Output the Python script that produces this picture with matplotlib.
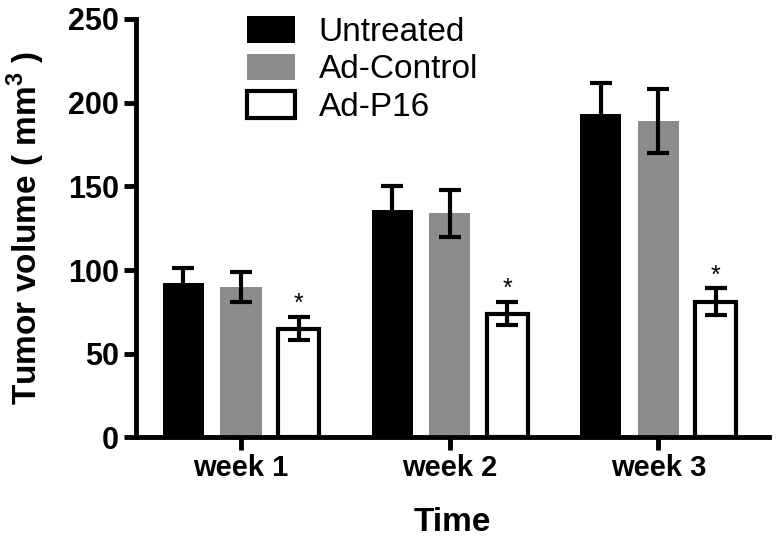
import numpy as np
import matplotlib as mpl
mpl.use('Agg')
import matplotlib.pyplot as plt

weeks = ['week 1', 'week 2', 'week 3']
groups = ['Untreated', 'Ad-Control', 'Ad-P16']
untreated = [92, 136, 193]
untreated_err = [9, 14, 19]
control = [90, 134, 189]
control_err = [9, 14, 19]
p16 = [65, 74, 81]
p16_err = [7, 7, 8]
yticks = [0, 50, 100, 150, 200, 250]

mpl.rcParams['font.family'] = ['Liberation Sans', 'DejaVu Sans']
mpl.rcParams['mathtext.fontset'] = 'custom'
mpl.rcParams['mathtext.bf'] = 'Liberation Sans:bold'
mpl.rcParams['mathtext.rm'] = 'Liberation Sans:bold'

fig = plt.figure(figsize=(7.81, 5.42), dpi=100)
ax = fig.add_axes([0.174, 0.193, 0.811, 0.772])

x = np.arange(len(weeks))
w = 0.197
off = 0.276
lw = 3.0
ekw = dict(elinewidth=lw, capthick=lw, capsize=8, ecolor='black')

ax.bar(x - off, untreated, w, color='black', edgecolor='black', linewidth=0,
       yerr=untreated_err, error_kw=ekw, label=groups[0], zorder=2)
ax.bar(x, control, w, color='#8c8c8c', linewidth=0,
       yerr=control_err, error_kw=ekw, label=groups[1], zorder=2)
ax.bar(x + off, p16, w, color='white', edgecolor='black', linewidth=lw,
       yerr=p16_err, error_kw=ekw, label=groups[2], zorder=2)

# significance marks
for xi, v, e in zip(x + off, p16, p16_err):
    ax.text(xi, v + e + 0.5, '*', ha='center', va='bottom', fontsize=18)

ax.set_xlim(-0.504, 2.532)
ax.set_ylim(0, 250)
ax.set_yticks(yticks)
ax.set_xticks(x)
ax.set_xticklabels(weeks, fontsize=21, fontweight='bold')
for t in ax.get_yticklabels():
    t.set_fontsize(22)
    t.set_fontweight('bold')

for s in ['top', 'right']:
    ax.spines[s].set_visible(False)
for s in ['left', 'bottom']:
    ax.spines[s].set_linewidth(3.5)
ax.tick_params(width=3.5, length=9, pad=3)

ax.set_xlabel('Time', fontsize=24, fontweight='bold', labelpad=18)
ax.set_ylabel(r'Tumor volume ( mm$^{\mathbf{3}}$ )', fontsize=24,
              fontweight='bold', labelpad=15)

ax.legend(loc='upper left', bbox_to_anchor=(247 / 781, 1 - 16 / 542),
          bbox_transform=fig.transFigure, frameon=False, borderpad=0,
          borderaxespad=0, fontsize=24, handlelength=1.45, handleheight=0.85,
          handletextpad=0.7, labelspacing=0.17)

fig.savefig('out.png', dpi=100)
